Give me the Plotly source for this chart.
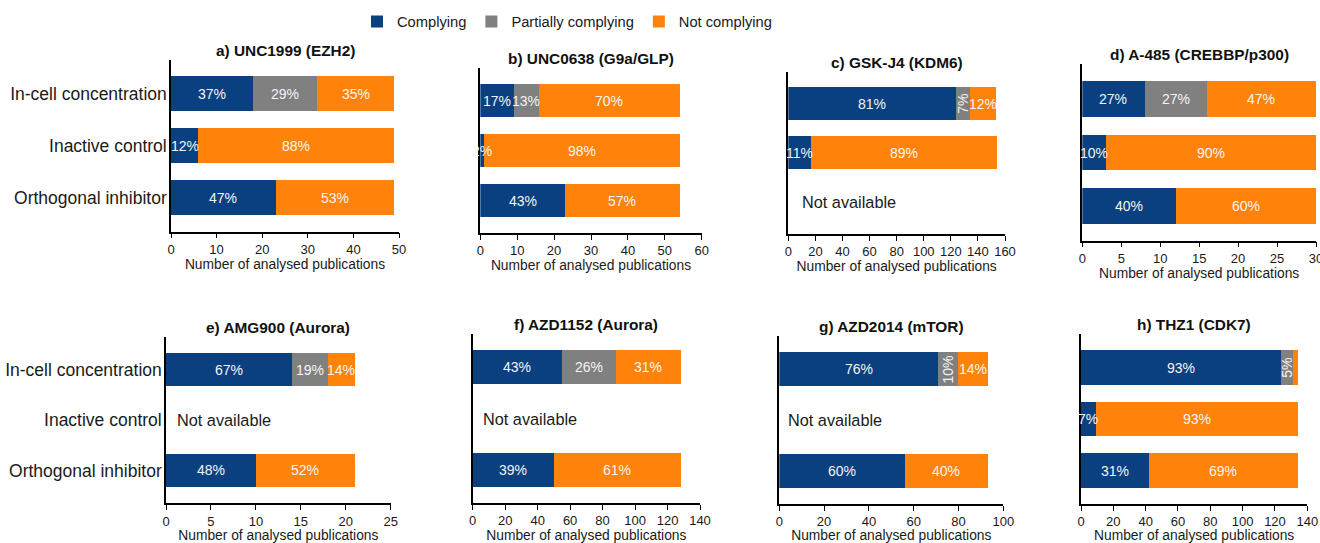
import plotly.graph_objects as go

# ---------------- data ----------------
CATEGORIES = ["In-cell concentration", "Inactive control", "Orthogonal inhibitor"]
SERIES = ["Complying", "Partially complying", "Not complying"]
PANEL_TITLES = [
    "a) UNC1999 (EZH2)", "b) UNC0638 (G9a/GLP)", "c) GSK-J4 (KDM6)", "d) A-485 (CREBBP/p300)",
    "e) AMG900 (Aurora)", "f) AZD1152 (Aurora)", "g) AZD2014 (mTOR)", "h) THZ1 (CDK7)",
]
# number of publications per panel, rows = CATEGORIES (None = not available)
COMPLYING = [[18, 6, 23], [9, 1, 23], [124, 17, None], [8, 3, 12],
             [14, None, 10], [55, None, 50], [71, None, 56], [124, 9, 42]]
PARTIAL = [[14, 0, 0], [7, 0, 0], [10, 0, None], [8, 0, 0],
           [4, None, 0], [33, None, 0], [9, None, 0], [7, 0, 0]]
NOT_COMPLYING = [[17, 43, 26], [38, 53, 31], [19, 137, None], [14, 27, 18],
                 [3, None, 11], [40, None, 78], [13, None, 37], [3, 125, 92]]
X_MAX = [50, 60, 160, 30, 25, 140, 100, 140]
X_DTICK = [10, 10, 20, 5, 5, 20, 20, 20]
X_TITLE = "Number of analysed publications"
NA_TEXT = "Not available"

# ---------------- style / layout ----------------
W, H = 1320, 543
COLORS = ["#0a4080", "#808080", "#ff830b"]
FONT = "Liberation Sans, Arial, Helvetica, sans-serif"
XDOM_PX = [(171, 399), (480.3, 701.7), (788.3, 1005), (1082.3, 1316),
           (166, 390.7), (472.7, 700), (779.3, 1003.3), (1081, 1307.3)]
YDOM_PX = [(60, 231.7), (68, 233), (71.7, 234), (64.3, 240.7),
           (336.7, 503.3), (334, 503), (336, 504), (334.3, 504)]
NA_SHIFT = [8, 8, 12, 8, 9, 8, 7, 8]
ROTATED = {(2, 0, 1), (6, 0, 1), (7, 0, 1)}
HIDDEN = {(7, 0, 2)}

fig = go.Figure()
annotations = []
series_data = [COMPLYING, PARTIAL, NOT_COMPLYING]

for i in range(8):
    sx = "" if i == 0 else str(i + 1)
    for s, name in enumerate(SERIES):
        fig.add_trace(go.Bar(
            name=name, y=[0, 1, 2], x=series_data[s][i], orientation="h",
            width=0.67, marker=dict(color=COLORS[s], line=dict(width=0)),
            xaxis="x" + sx, yaxis="y" + sx, legendgroup=name,
            showlegend=(i == 0), hoverinfo="x+name",
        ))
    # percentage labels
    for r in range(3):
        vals = [series_data[s][i][r] for s in range(3)]
        if vals[0] is None:
            annotations.append(dict(
                text=NA_TEXT, x=0, y=r, xref="x" + sx, yref="y" + sx,
                xanchor="left", yanchor="middle", xshift=NA_SHIFT[i],
                showarrow=False, font=dict(size=16.3, color="#1a1a1a", family=FONT)))
            continue
        total = sum(v for v in vals if v)
        cum = 0
        for s in range(3):
            v = vals[s] or 0
            if v > 0 and (i, r, s) not in HIDDEN:
                pct = int(v * 100 / total + 0.5)
                annotations.append(dict(
                    text=f"{pct}%", x=cum + v / 2, y=r, xref="x" + sx, yref="y" + sx,
                    xanchor="center", yanchor="middle", showarrow=False,
                    textangle=-90 if (i, r, s) in ROTATED else 0,
                    font=dict(size=14, color="#f4f4f4", family=FONT)))
            cum += v
    # panel title
    x0, x1 = XDOM_PX[i]
    y0, y1 = YDOM_PX[i]
    annotations.append(dict(
        text=f"<b>{PANEL_TITLES[i]}</b>", x=(x0 + x1) / 2 / W, y=1 - (y0 - 9.5) / H,
        xref="paper", yref="paper", xanchor="center", yanchor="middle",
        showarrow=False, font=dict(size=15.4, color="#111111", family=FONT)))

layout = dict(
    template="none",
    width=W, height=H, margin=dict(l=0, r=0, t=0, b=0, autoexpand=False),
    paper_bgcolor="white", plot_bgcolor="white", barmode="stack",
    font=dict(family=FONT, color="#1a1a1a"),
    showlegend=True,
    legend=dict(orientation="h", x=357 / W, xanchor="left", y=1 - 22 / H, yanchor="middle",
                font=dict(size=14.7, color="#1a1a1a"), bgcolor="rgba(0,0,0,0)",
                borderwidth=0, traceorder="normal"),
    annotations=annotations,
)
for i in range(8):
    sx = "" if i == 0 else str(i + 1)
    x0, x1 = XDOM_PX[i]
    y0, y1 = YDOM_PX[i]
    layout["xaxis" + sx] = dict(
        domain=[x0 / W, x1 / W], range=[0, X_MAX[i]], anchor="y" + sx,
        tick0=0, dtick=X_DTICK[i], ticks="outside", ticklen=5, tickwidth=1.3,
        tickcolor="black", showline=True, linecolor="black", linewidth=1.5,
        showgrid=False, zeroline=False, automargin=False, ticklabeloverflow="allow",
        tickfont=dict(size=13, color="#1a1a1a"),
        title=dict(text=X_TITLE, font=dict(size=13.8, color="#1a1a1a"), standoff=2),
    )
    layout["yaxis" + sx] = dict(
        domain=[1 - y1 / H, 1 - y0 / H], range=[2.65, -0.65], anchor="x" + sx,
        tickvals=[0, 1, 2], ticktext=CATEGORIES, showticklabels=(i in (0, 4)),
        ticks="", showline=True, linecolor="black", linewidth=1.5,
        showgrid=False, zeroline=False, automargin=False, ticklabelstandoff=-1,
        tickfont=dict(size=17.5, color="#1a1a1a"),
    )
fig.update_layout(**layout)
fig.write_html(
    "out.html",
    config={"displayModeBar": False},
    post_script="document.body.style.margin='0';document.body.style.overflow='hidden';",
)
